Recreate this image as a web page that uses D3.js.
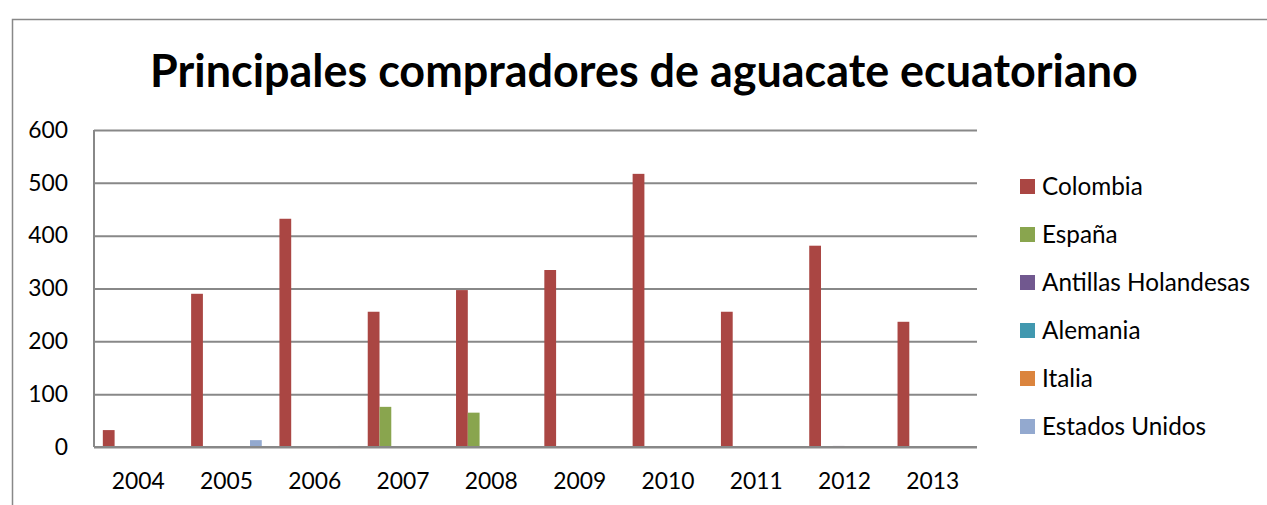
<!DOCTYPE html>
<html>
<head>
<meta charset="utf-8">
<script src="https://cdn.jsdelivr.net/npm/d3@7"></script>
<style>
  body { margin: 0; background: #fff; }
  text { font-family: Lato, "Open Sans", sans-serif; fill: #000; }
  .grid line { stroke: #888; stroke-width: 2; }
  .grid path { display: none; }
</style>
</head>
<body>
<div id="chart"></div>
<script>
// 1: DATA
const years = ["2004", "2005", "2006", "2007", "2008", "2009", "2010", "2011", "2012", "2013"];
const countries = ["Colombia", "España", "Antillas Holandesas", "Alemania", "Italia", "Estados Unidos"];
const colombia      = [32, 290, 432, 256, 297, 335, 517, 256, 381, 237];
const espana        = [0, 0, 0, 76, 65, 0, 0, 0, 0, 0];
const antillas      = [0, 0, 0, 0, 0, 0, 0, 0, 2, 0];
const alemania      = [0, 0, 0, 0, 0, 0, 0, 0, 0, 0];
const italia        = [0, 0, 0, 0, 0, 0, 0, 0, 0, 0];
const estadosUnidos = [0, 13, 2, 0, 0, 0, 0, 0, 0, 0];
const yTicks = [0, 100, 200, 300, 400, 500, 600];
const colors = ["#AA4643", "#89A54E", "#71588F", "#4198AF", "#DB843D", "#93A9CF"];

const seriesValues = [colombia, espana, antillas, alemania, italia, estadosUnidos];
const data = years.map((y, i) => ({
  year: y,
  values: countries.map((c, j) => ({ country: c, value: seriesValues[j][i] }))
}));

// 2: SVG
const W = 1267, H = 505;
const margin = { top: 130, right: 290, bottom: 58, left: 94 },
      width = W - margin.left - margin.right,
      height = H - margin.top - margin.bottom;

const svg = d3.select("#chart").append("svg")
    .attr("width", W)
    .attr("height", H);

// outer chart border (cropped on the right and bottom)
svg.append("path")
    .attr("d", `M12.5,${H + 2} V19.5 H${W + 2}`)
    .attr("fill", "none")
    .attr("stroke", "#888")
    .attr("stroke-width", 1.5);

const g = svg.append("g")
    .attr("transform", `translate(${margin.left},${margin.top})`);

// helper: font size so that a sample text gets a given width
function fitSize(sample, target, weight) {
  const t = svg.append("text")
      .style("font-size", "20px")
      .style("font-weight", weight || "normal")
      .text(sample);
  const w = t.node().getComputedTextLength();
  t.remove();
  return 20 * target / w;
}
const tickSize = fitSize("2004", 53);
const legendSize = fitSize("Antillas Holandesas", 208);
const titleSize = fitSize("Principales compradores de aguacate ecuatoriano", 988, "bold");

// 3: SCALES
const x0 = d3.scaleBand()
    .domain(years)
    .range([0, width]);

const barW = x0.bandwidth() / (countries.length + 1.5);
const x1 = d3.scaleBand()
    .domain(countries)
    .range([barW * 0.75, barW * 0.75 + barW * countries.length]);

const y = d3.scaleLinear()
    .domain([0, 600])
    .range([height, 0]);

const color = d3.scaleOrdinal().domain(countries).range(colors);

// 4: GRIDLINES
g.append("g")
    .attr("class", "grid")
    .call(d3.axisLeft(y).tickValues(yTicks).tickSize(-width).tickFormat(""));

// 5: BARS
g.selectAll(".year")
    .data(data)
    .enter().append("g")
    .attr("class", "year")
    .attr("transform", d => `translate(${x0(d.year)},0)`)
    .selectAll("rect")
    .data(d => d.values.filter(v => v.value > 0))
    .enter().append("rect")
    .attr("x", d => x1(d.country))
    .attr("width", x1.bandwidth())
    .attr("y", d => y(d.value))
    .attr("height", d => height - y(d.value))
    .attr("fill", d => color(d.country));

// 6: AXES
g.append("line")
    .attr("x1", 0).attr("x2", 0)
    .attr("y1", 0).attr("y2", height)
    .attr("stroke", "#888").attr("stroke-width", 2);
g.append("line")
    .attr("x1", 0).attr("x2", width)
    .attr("y1", height).attr("y2", height)
    .attr("stroke", "#888").attr("stroke-width", 2);

const yAxis = g.append("g")
    .call(d3.axisLeft(y).tickValues(yTicks).tickSize(0).tickPadding(26));
yAxis.select(".domain").remove();
yAxis.selectAll("text")
    .style("font-family", 'Lato, sans-serif')
    .style("font-size", tickSize + "px")
    .attr("fill", "#000");

const xAxis = g.append("g")
    .attr("transform", `translate(0,${height})`)
    .call(d3.axisBottom(x0).tickSize(0).tickPadding(26));
xAxis.select(".domain").remove();
xAxis.selectAll("text")
    .style("font-family", 'Lato, sans-serif')
    .style("font-size", tickSize + "px")
    .attr("fill", "#000");

// 7: TITLE
svg.append("text")
    .attr("x", 644)
    .attr("y", 87)
    .attr("text-anchor", "middle")
    .style("font-weight", "bold")
    .style("font-size", titleSize + "px")
    .text("Principales compradores de aguacate ecuatoriano");

// 8: LEGEND
const legend = svg.append("g")
    .attr("transform", "translate(1020,179)");

const item = legend.selectAll("g")
    .data(countries)
    .enter().append("g")
    .attr("transform", (d, i) => `translate(0,${i * 48})`);

item.append("rect")
    .attr("width", 15)
    .attr("height", 15)
    .attr("fill", d => color(d));

item.append("text")
    .attr("x", 22)
    .attr("y", 16)
    .style("font-size", legendSize + "px")
    .text(d => d);
</script>
</body>
</html>
